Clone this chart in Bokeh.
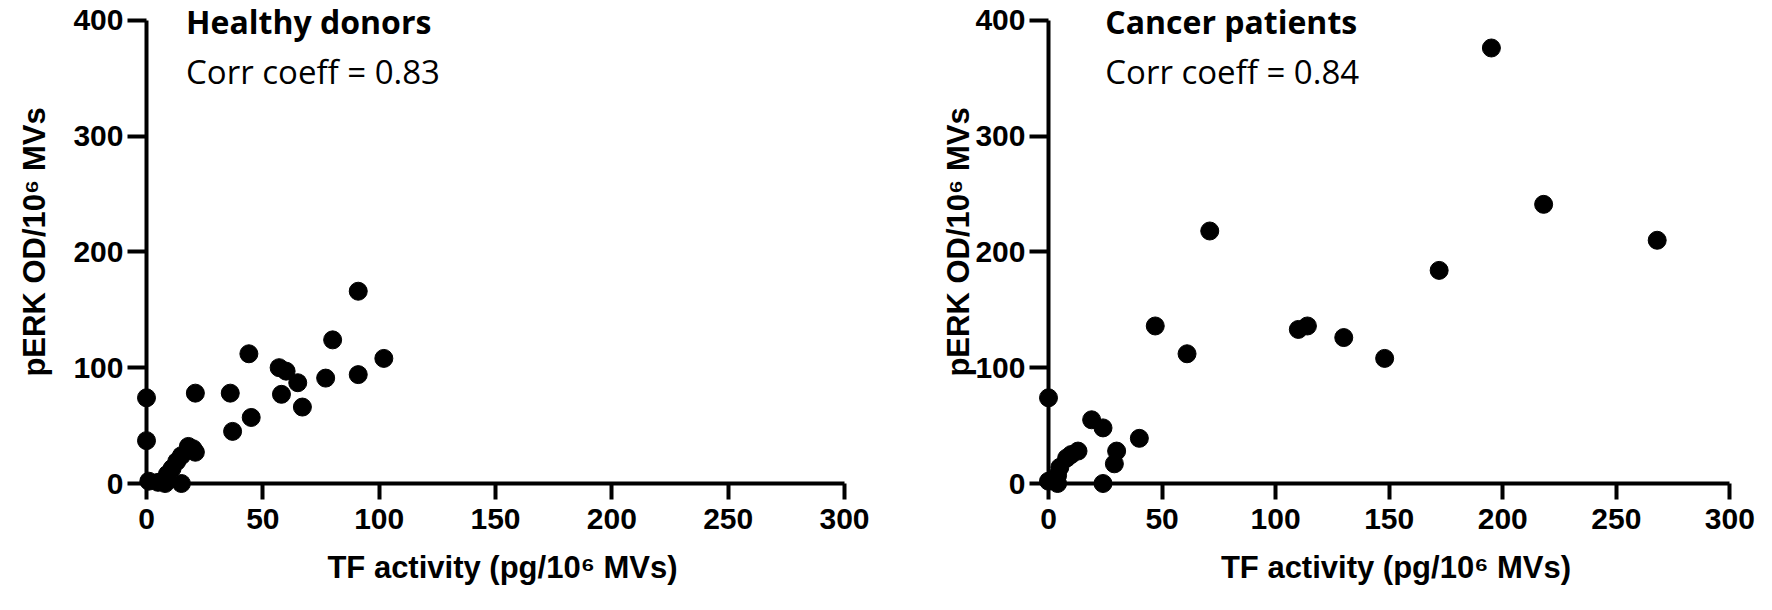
from bokeh.core.properties import value
from bokeh.embed import file_html
from bokeh.layouts import row
from bokeh.models import ColumnDataSource, FixedTicker
from bokeh.plotting import figure
from bokeh.resources import INLINE

# TF activity vs pERK, two panels

healthy_tf = [0, 0, 1, 5, 8, 9, 11, 13, 15, 15, 18, 20, 21,
              21, 36, 37, 44, 45, 57, 60, 58, 65, 67, 77, 80, 91, 91, 102]
healthy_perk = [74, 37, 2, 1, 0, 8, 13, 19, 24, 0, 32, 30, 27,
                78, 78, 45, 112, 57, 100, 97, 77, 87, 66, 91, 124, 166, 94, 108]

cancer_tf = [0, 0, 2, 4, 4, 5, 8, 10, 13, 19, 24, 24, 29, 30, 40,
             47, 61, 71, 110, 114, 130, 148, 172, 195, 218, 268]
cancer_perk = [74, 2, 3, 0, 7, 14, 22, 25, 28, 55, 48, 0, 17, 28, 39,
               136, 112, 218, 133, 136, 126, 108, 184, 376, 241, 210]

panel_titles = ["Healthy donors", "Cancer patients"]
corr_texts = ["Corr coeff = 0.83", "Corr coeff = 0.84"]

x_ticks = [0, 50, 100, 150, 200, 250, 300]
y_ticks = [0, 100, 200, 300, 400]

AXIS_FONT = "Liberation Sans"
NOTE_FONT = "Open Sans"


def make_panel(xs, ys, title, corr, width, left, right, title_x, label_standoff):
    # frame reaches the top edge so the notes sit inside it
    p = figure(width=width, height=594, x_range=(0, 306), y_range=(0, 417),
               output_backend="svg", toolbar_location=None,
               min_border_left=left, min_border_right=right,
               min_border_top=0, min_border_bottom=111)
    p.outline_line_color = None
    p.xgrid.grid_line_color = None
    p.ygrid.grid_line_color = None

    src = ColumnDataSource(dict(x=xs, y=ys))
    # overlay level so dots on the axes are not cut by the frame
    p.scatter('x', 'y', source=src, size=18, color='black', level="overlay")

    p.text(x=[title_x], y=[398.5], text=[title], text_font=value(NOTE_FONT),
           text_font_style="bold", text_font_size="32px", text_color="black",
           text_baseline="alphabetic")
    p.text(x=[title_x], y=[356], text=[corr], text_font=value(NOTE_FONT),
           text_font_size="33px", text_color="black", text_baseline="alphabetic")

    p.xaxis.ticker = FixedTicker(ticks=x_ticks)
    p.yaxis.ticker = FixedTicker(ticks=y_ticks)
    p.xaxis.bounds = (0, 300)
    p.yaxis.bounds = (0, 400)

    p.xaxis.axis_label = "TF activity (pg/10⁶ MVs)"
    p.yaxis.axis_label = "pERK OD/10⁶ MVs"

    for ax in (p.xaxis, p.yaxis):
        ax.axis_line_width = 4
        ax.axis_line_color = "black"
        ax.major_tick_line_width = 4
        ax.major_tick_line_color = "black"
        ax.major_tick_in = 0
        ax.minor_tick_line_color = None
        ax.major_label_text_font = AXIS_FONT
        ax.major_label_text_font_style = "bold"
        ax.major_label_text_font_size = "30px"
        ax.major_label_text_color = "black"
        ax.axis_label_text_font = AXIS_FONT
        ax.axis_label_text_font_style = "bold"
        ax.axis_label_text_font_size = "31px"
        ax.axis_label_text_color = "black"

    p.xaxis.major_tick_out = 16
    p.yaxis.major_tick_out = 19
    p.xaxis.major_label_standoff = 9
    p.yaxis.major_label_standoff = 4
    p.xaxis.axis_label_standoff = 18
    p.yaxis.axis_label_standoff = label_standoff
    return p


p1 = make_panel(healthy_tf, healthy_perk, panel_titles[0], corr_texts[0],
                880, 146, 22, 17, 18)
p2 = make_panel(cancer_tf, cancer_perk, panel_titles[1], corr_texts[1],
                876, 168, 13, 25, -4)

p = row(p1, p2)

open("out.html", "w").write(file_html(p, INLINE))
